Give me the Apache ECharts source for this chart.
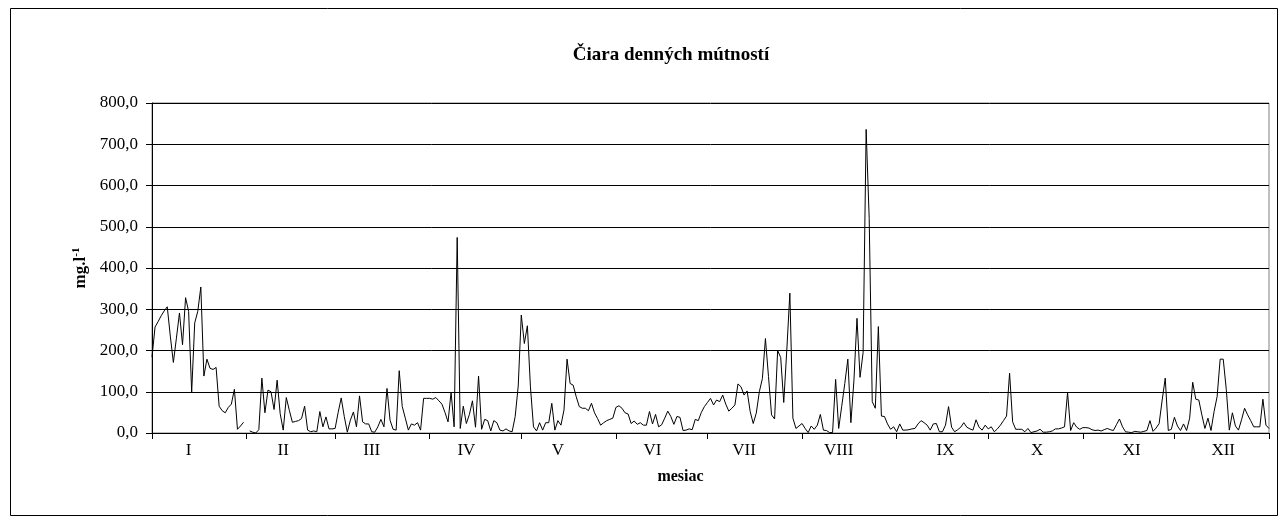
<!DOCTYPE html>
<html>
<head>
<meta charset="utf-8">
<script src="https://cdn.jsdelivr.net/npm/echarts/dist/echarts.min.js"></script>
<style>
  html, body { margin: 0; padding: 0; background: #fff; }
  #chart { width: 1280px; height: 525px; }
</style>
</head>
<body>
<div id="chart"></div>
<script>
// mesiace
var mesiace = ['I', 'II', 'III', 'IV', 'V', 'VI', 'VII', 'VIII', 'IX', 'X', 'XI', 'XII'];
// počet dní v mesiaci (prestupný rok)
var dniVMesiaci = [31, 29, 31, 30, 31, 30, 31, 31, 30, 31, 30, 31];

// denné mútnosti mg.l-1 po mesiacoch
var mutI = [184, 257, 270, 284, 296, 306, 235, 171, 230, 291, 214, 328, 295, 99, 267, 295, 354, 138, 179, 157, 154, 159, 65, 54, 49, 62, 70, 106, 9, 17, 26];
var mutII = [null, 5, 2, 0, 8, 133, 49, 104, 100, 57, 128, 47, 7, 86, 55, 26, 28, 30, 35, 65, 7, 3, 5, 3, 52, 15, 39, 10, 10];
var mutIII = [11, 50, 85, 40, 2, 31, 51, 15, 90, 27, 22, 22, 3, 2, 15, 33, 15, 108, 31, 9, 7, 151, 64, 36, 7, 22, 19, 25, 7, 84, 84];
var mutIV = [84, 82, 86, 78, 70, 50, 27, 99, 15, 474, 11, 65, 23, 45, 78, 14, 138, 9, 33, 30, 5, 30, 25, 7, 5, 10, 5, 3, 40, 114];
var mutV = [286, 217, 260, 112, 15, 5, 25, 7, 25, 25, 72, 7, 30, 19, 56, 179, 120, 116, 88, 64, 60, 60, 54, 72, 49, 35, 19, 25, 30, 33, 36];
var mutVI = [62, 66, 60, 49, 46, 23, 29, 21, 25, 19, 19, 52, 22, 45, 15, 20, 36, 53, 40, 21, 40, 38, 6, 7, 10, 8, 33, 30, 50, 64];
var mutVII = [74, 84, 68, 80, 76, 92, 70, 53, 60, 68, 119, 112, 92, 102, 52, 23, 48, 100, 132, 229, 137, 44, 34, 200, 183, 74, 201, 339, 36, 11, 17];
var mutVIII = [23, 11, 1, 17, 9, 19, 45, 7, 6, 1, 1, 130, 11, 65, 120, 179, 25, 128, 278, 135, 195, 736, 520, 76, 60, 258, 41, 40, 22, 9, 15];
var mutIX = [3, 22, 7, 7, 8, 10, 11, 22, 30, 25, 19, 7, 22, 23, 3, 3, 19, 64, 14, 3, 8, 14, 25, 14, 10, 7, 32, 14, 7, 19];
var mutX = [10, 15, 3, 10, 19, 30, 41, 145, 27, 9, 9, 9, 3, 11, 1, 3, 5, 9, 2, 2, 3, 5, 10, 10, 12, 15, 98, 6, 25, 14, 9];
var mutXI = [13, 13, 12, 8, 6, 7, 5, 8, 11, 8, 6, 20, 34, 15, 3, 2, 1, 4, 3, 2, 4, 6, 30, 4, 12, 23, 80, 133, 6, 9];
// december + posledný bod (1. január nasl. roka)
var mutXII = [38, 17, 6, 22, 6, 36, 123, 82, 80, 44, 11, 36, 6, 52, 88, 179, 179, 106, 7, 49, 17, 7, 32, 60, 44, 30, 15, 15, 15, 82, 19, 11];

var mutnosti = [].concat(mutI, mutII, mutIII, mutIV, mutV, mutVI, mutVII, mutVIII, mutIX, mutX, mutXI, mutXII);

var dni = mutnosti.map(function (v, i) { return i; });

// značky na osi na začiatku mesiacov, popisky zhruba v strede
var zaciatky = {};
var popisky = {};
var den = 0;
dniVMesiaci.forEach(function (d, i) {
    zaciatky[den] = true;
    popisky[den + (i < 8 ? 12 : 16)] = mesiace[i];
    den += d;
});
zaciatky[dni.length - 1] = true;

var serif = "'Liberation Serif', 'Times New Roman', serif";

var myChart = echarts.init(document.getElementById('chart'));
var option = {
    animation: false,
    backgroundColor: '#fff',
    title: {
        text: 'Čiara denných mútností',
        left: 666,
        textAlign: 'center',
        top: 41,
        textStyle: { fontFamily: serif, fontSize: 19, fontWeight: 'bold', color: '#000' }
    },
    graphic: [{
        type: 'rect',
        shape: { x: 10.5, y: 8.5, width: 1267, height: 507 },
        style: { fill: 'none', stroke: '#000', lineWidth: 1 },
        silent: true
    }],
    grid: {
        left: 152,
        right: 11,
        top: 103,
        bottom: 92,
        show: true,
        borderColor: '#808080',
        borderWidth: 1
    },
    xAxis: {
        type: 'category',
        data: dni,
        boundaryGap: false,
        name: 'mesiac',
        nameLocation: 'middle',
        nameGap: 36,
        nameTextStyle: {
            fontFamily: serif, fontSize: 16, fontWeight: 'bold', color: '#000',
            padding: [0, 60, 0, 0]
        },
        axisLine: { lineStyle: { color: '#000', width: 1 } },
        axisTick: {
            length: 6,
            lineStyle: { color: '#000' },
            interval: function (i) { return !!zaciatky[i]; }
        },
        axisLabel: {
            interval: function (i) { return !!popisky[i]; },
            formatter: function (v, i) { return popisky[i] || ''; },
            margin: 9,
            fontFamily: serif,
            fontSize: 17,
            color: '#000'
        },
        splitLine: { show: false }
    },
    yAxis: {
        type: 'value',
        min: 0,
        max: 800,
        interval: 100,
        name: '{b|mg.l}{s|-1}',
        nameLocation: 'middle',
        nameRotate: 90,
        nameGap: 60,
        nameTextStyle: {
            rich: {
                b: { fontFamily: serif, fontSize: 17, fontWeight: 'bold', color: '#000' },
                s: { fontFamily: serif, fontSize: 11, fontWeight: 'bold', color: '#000', padding: [0, 0, 9, 0] }
            }
        },
        axisLine: { show: true, lineStyle: { color: '#000', width: 1 } },
        axisTick: { show: true, length: 6, lineStyle: { color: '#000' } },
        axisLabel: {
            margin: 14,
            fontFamily: serif,
            fontSize: 17,
            color: '#000',
            formatter: function (v) { return v.toFixed(1).replace('.', ','); }
        },
        splitLine: { lineStyle: { color: '#000', width: 1 } }
    },
    series: [{
        type: 'line',
        data: mutnosti,
        showSymbol: false,
        connectNulls: false,
        lineStyle: { color: '#000', width: 1 },
        itemStyle: { color: '#000' }
    }]
};
myChart.setOption(option);
</script>
</body>
</html>
